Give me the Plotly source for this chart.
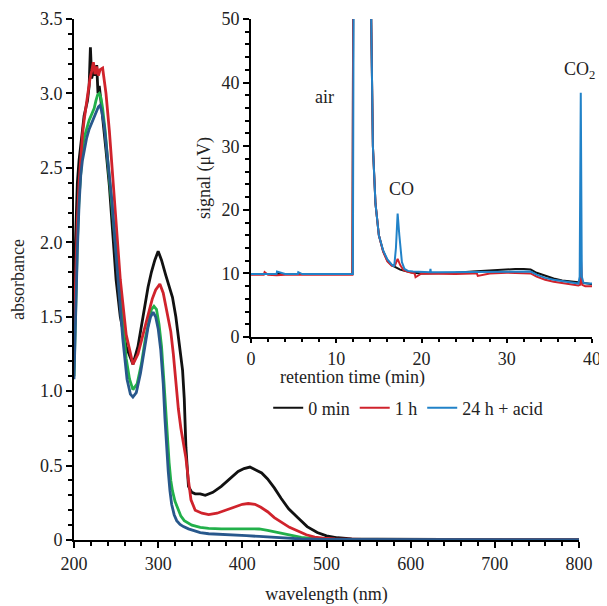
import plotly.graph_objects as go

# UV-vis spectra (main plot)
wl_0min = [200, 202, 204, 206, 208, 210, 212, 214, 216, 218, 219.5, 221, 223, 225, 227, 228.5, 230, 232, 235, 238,
           242, 246, 250, 255, 262, 270, 276, 282, 288, 292, 296, 300, 304, 309, 313, 317, 321, 325, 329, 331,
           333, 336, 340, 344, 350, 356, 365, 375, 385, 395, 402, 409, 416, 423, 430, 438, 446, 455, 466, 477,
           489, 500, 513, 530, 560, 600, 700, 800]
abs_0min = [1.7, 2.1, 2.4, 2.55, 2.65, 2.78, 2.85, 2.9, 2.95, 3.05, 3.31, 3.1, 3.15, 3.12, 3.19, 3.0, 3.05, 2.95, 2.8, 2.62,
            2.38, 2.05, 1.75, 1.5, 1.3, 1.18, 1.3, 1.5, 1.7, 1.8, 1.88, 1.94, 1.88, 1.78, 1.7, 1.63, 1.5, 1.32, 1.14, 0.95,
            0.62, 0.36, 0.32, 0.31, 0.31, 0.30, 0.32, 0.36, 0.41, 0.46, 0.48, 0.49, 0.47, 0.45, 0.41, 0.35, 0.28, 0.21, 0.15, 0.09,
            0.05, 0.028, 0.015, 0.008, 0.005, 0.004, 0.003, 0.002]

wl_1h = [200, 202, 204, 206, 208, 210, 212, 214, 216, 217.5, 219, 221, 223, 225, 227, 229, 231, 234, 236, 238,
         242, 246, 250, 255, 262, 270, 276, 282, 288, 293, 297, 302, 306, 311, 315, 318, 321, 324, 327, 329,
         331, 333, 336, 339, 344, 352, 360, 370, 380, 390, 400, 407, 415, 422, 430, 438, 446, 456, 466, 476,
         486, 496, 510, 530, 560, 600, 700, 800]
abs_1h = [1.38, 1.8, 2.15, 2.4, 2.58, 2.72, 2.82, 2.9, 2.98, 3.05, 3.1, 3.15, 3.21, 3.13, 3.18, 3.12, 3.16, 3.17, 3.1, 3.0,
          2.75, 2.45, 2.12, 1.75, 1.38, 1.18, 1.25, 1.38, 1.52, 1.62, 1.68, 1.72, 1.66, 1.5, 1.4, 1.25, 1.05, 0.88, 0.75, 0.68,
          0.6, 0.55, 0.4, 0.27, 0.2, 0.18, 0.17, 0.18, 0.2, 0.22, 0.24, 0.245, 0.24, 0.22, 0.19, 0.15, 0.12, 0.085, 0.06, 0.035,
          0.02, 0.012, 0.007, 0.004, 0.003, 0.003, 0.002, 0.002]

wl_green = [200, 202, 204, 206, 208, 210, 212, 215, 218, 221, 224, 226, 228, 230, 232, 234, 237, 240, 244, 248,
            252, 257, 262, 266, 270, 275, 280, 285, 289, 292, 295, 298, 301, 304, 307, 309, 311, 313, 315, 317,
            320, 324, 327, 331, 336, 340, 350, 360, 375, 390, 400, 410, 420, 430, 440, 450, 460, 470, 485, 500,
            530, 600, 700, 800]
abs_green = [1.1, 1.6, 2.0, 2.3, 2.5, 2.62, 2.7, 2.77, 2.82, 2.86, 2.9, 2.95, 2.99, 3.0, 2.97, 2.9, 2.75, 2.55, 2.3, 2.05,
             1.8, 1.48, 1.22, 1.08, 1.01, 1.05, 1.18, 1.36, 1.48, 1.55, 1.57, 1.55, 1.45, 1.3, 1.05, 0.85, 0.68, 0.52, 0.4, 0.33,
             0.26, 0.2, 0.16, 0.13, 0.11, 0.1, 0.085, 0.078, 0.075, 0.075, 0.077, 0.078, 0.074, 0.065, 0.053, 0.04, 0.028, 0.018, 0.009, 0.005,
             0.003, 0.002, 0.002, 0.002]

wl_navy = [200, 202, 204, 206, 208, 210, 212, 215, 218, 221, 224, 227, 229, 231, 233, 236, 239, 242, 245, 249,
           253, 258, 263, 267, 270, 274, 279, 284, 288, 291, 294, 297, 300, 303, 306, 308, 310, 312, 314, 316,
           319, 322, 326, 330, 336, 342, 350, 360, 375, 390, 405, 420, 435, 450, 470, 500, 550, 650, 800]
abs_navy = [1.08, 1.55, 1.95, 2.25, 2.45, 2.55, 2.62, 2.7, 2.76, 2.8, 2.84, 2.88, 2.91, 2.92, 2.88, 2.78, 2.62, 2.45, 2.28, 1.98,
            1.68, 1.35, 1.08, 0.98, 0.96, 0.99, 1.12, 1.3, 1.43, 1.5, 1.53, 1.5, 1.42, 1.28, 1.05, 0.82, 0.62, 0.46, 0.33, 0.24,
            0.17, 0.13, 0.105, 0.09, 0.075, 0.062, 0.05, 0.042, 0.036, 0.032, 0.029, 0.024, 0.018, 0.012, 0.007, 0.004, 0.003, 0.002, 0.002]

# GC traces (inset)
t_black = [0, 2, 4, 6, 8, 10, 11.9, 12.0, 13.9, 14.1, 14.3, 14.6, 15.0, 15.5, 16.0, 16.5, 17.0, 17.5, 18.0, 19.0,
           20, 21, 22, 24, 26, 28, 30, 31, 32, 32.8, 33.5, 34.5, 35.5, 36.5, 37.5, 38.4, 38.7, 39.0, 39.5, 40]
s_black = [9.9, 9.9, 9.9, 9.9, 9.9, 9.9, 9.9, 60, 60, 50, 30, 21, 16, 13.5, 12, 11.3, 10.9, 10.6, 10.4, 10.1,
           10.0, 10.0, 10.0, 10.1, 10.3, 10.5, 10.6, 10.7, 10.7, 10.6, 10.1, 9.6, 9.2, 8.9, 8.7, 8.6, 9.0, 8.5, 8.4, 8.3]

t_red = [0, 1.5, 1.6, 2, 3, 4, 6, 8, 10, 11.9, 12.0, 13.9, 14.1, 14.3, 14.6, 15.0, 15.5, 16.0, 16.5, 16.9, 17.2,
         17.5, 17.9, 18.5, 19.2, 19.3, 20, 22, 24, 26, 26.5, 26.6, 28, 30, 32, 32.8, 33.5, 34.5, 35.5, 36.5, 37.5,
         38.4, 38.6, 38.7, 38.85, 39.2, 40]
s_red = [9.8, 9.8, 10.2, 9.8, 9.7, 9.8, 9.8, 9.8, 9.8, 9.8, 60, 60, 50, 30, 21, 16, 13.4, 11.9, 11.2, 11.3, 12.3,
         11.3, 10.5, 10.2, 10.0, 9.4, 10.0, 9.9, 9.9, 10.0, 10.0, 9.6, 10.0, 10.1, 10.1, 10.0, 9.5, 9.0, 8.7, 8.5, 8.3,
         8.1, 8.2, 12.2, 8.2, 8.0, 8.0]

t_blue = [0, 2, 3, 3.05, 4, 5.5, 5.55, 6, 8, 10, 11.95, 12.05, 13.95, 14.1, 14.3, 14.6, 15.0, 15.5, 16.0, 16.5,
          16.8, 17.0, 17.2, 17.4, 17.7, 18.0, 18.4, 19, 20, 21, 21.05, 21.1, 22, 24, 26, 28, 30, 32, 32.8, 33.5,
          34.5, 35.5, 36.5, 37.5, 38.4, 38.55, 38.68, 38.8, 39.0, 39.5, 40]
s_blue = [9.9, 9.9, 9.9, 10.3, 9.9, 9.9, 10.2, 9.9, 9.9, 9.9, 9.9, 60, 60, 50, 30, 21, 16, 13.6, 12.2, 11.4,
          11.1, 14, 19.4, 16, 11.8, 10.7, 10.4, 10.3, 10.2, 10.2, 10.7, 10.2, 10.2, 10.2, 10.3, 10.3, 10.3, 10.3, 10.3, 9.8,
          9.3, 9.0, 8.8, 8.6, 8.4, 9.5, 38.4, 9.5, 8.5, 8.4, 8.4]

BLACK = "#111111"
RED = "#d0232c"
GREEN = "#22b04a"
NAVY = "#28588c"
BLUE = "#2182c8"
FONT = "Liberation Serif"
TXT = "#222222"

fig = go.Figure()

for wl, ab, color in [
    (wl_0min, abs_0min, BLACK),
    (wl_green, abs_green, GREEN),
    (wl_1h, abs_1h, RED),
    (wl_navy, abs_navy, NAVY),
]:
    fig.add_trace(
        go.Scatter(x=wl, y=ab, mode="lines", line=dict(color=color, width=2.8),
                   showlegend=False, xaxis="x", yaxis="y")
    )

for t, s, color, name in [
    (t_black, s_black, BLACK, "0 min"),
    (t_red, s_red, RED, "1 h"),
    (t_blue, s_blue, BLUE, "24 h + acid"),
]:
    fig.add_trace(
        go.Scatter(x=t, y=s, mode="lines", name=name, line=dict(color=color, width=2),
                   xaxis="x2", yaxis="y2")
    )

# automargin off: the default template would otherwise grow the margins and shrink the plot
axis_common = dict(
    showline=True, linecolor="black", linewidth=2, ticks="outside", tickcolor="black",
    tickwidth=2, ticklen=6, showgrid=False, zeroline=False, ticklabeloverflow="allow",
    automargin=False, tickfont=dict(family=FONT, size=18, color=TXT),
)

# the page body keeps its 8px margin, so the figure is drawn 8px in from the window corner
fig.update_layout(
    width=599,
    height=598,
    plot_bgcolor="white",
    paper_bgcolor="white",
    margin=dict(l=66, r=10, t=11, b=66),
    font=dict(family=FONT, size=18, color=TXT),
    xaxis=dict(
        **axis_common, domain=[0, 0.9656], range=[200, 800], tickvals=[200, 300, 400, 500, 600, 700, 800],
        minor=dict(dtick=20, tick0=200, ticks="outside", ticklen=4, tickwidth=2, tickcolor="black"),
        title=dict(text="wavelength (nm)", standoff=15, font=dict(family=FONT, size=18)),
        anchor="y",
    ),
    yaxis=dict(
        **axis_common, domain=[0, 1], range=[0, 3.5],
        tickvals=[0, 0.5, 1.0, 1.5, 2.0, 2.5, 3.0, 3.5],
        ticktext=["0", "0.5", "1.0", "1.5", "2.0", "2.5", "3.0", "3.5"],
        minor=dict(dtick=0.1, tick0=0, ticks="outside", ticklen=4, tickwidth=2, tickcolor="black"),
        title=dict(text="absorbance", standoff=20, font=dict(family=FONT, size=18)),
        anchor="x",
    ),
    xaxis2=dict(
        **axis_common, domain=[0.3384, 0.9905], range=[0, 40], tickvals=[0, 10, 20, 30, 40],
        minor=dict(dtick=2, tick0=0, ticks="outside", ticklen=3, tickwidth=1.5, tickcolor="black"),
        anchor="y2",
    ),
    yaxis2=dict(
        **axis_common, domain=[0.3896, 1.0], range=[0, 50], tickvals=[0, 10, 20, 30, 40, 50],
        minor=dict(dtick=2, tick0=0, ticks="outside", ticklen=4, tickwidth=1.5, tickcolor="black"),
        title=dict(text="signal (μV)", standoff=6, font=dict(family=FONT, size=18)),
        anchor="x2",
    ),
    legend=dict(
        orientation="h", x=0.639, xanchor="center", y=0.2534, yanchor="middle",
        font=dict(family=FONT, size=18, color=TXT), itemwidth=30, bgcolor="rgba(0,0,0,0)",
        traceorder="normal",
    ),
)
fig.update_layout(xaxis2_ticklen=4)

# inset x title placed by hand (sits tight under the tick labels)
fig.add_annotation(x=0.675, y=0.311, xref="paper", yref="paper", text="retention time (min)",
                   showarrow=False, yanchor="middle", font=dict(family=FONT, size=18, color=TXT))

fig.add_annotation(x=8.6, y=37.8, xref="x2", yref="y2", text="air", showarrow=False,
                   font=dict(family=FONT, size=18, color=TXT))
fig.add_annotation(x=17.6, y=23.3, xref="x2", yref="y2", text="CO", showarrow=False,
                   font=dict(family=FONT, size=18, color=TXT))
fig.add_annotation(x=1.0, y=0.902, xref="paper", yref="paper", text="CO<sub>2</sub>", showarrow=False,
                   xanchor="right", yanchor="middle", font=dict(family=FONT, size=18, color=TXT))

fig.write_html("out.html", config={"displayModeBar": False})
